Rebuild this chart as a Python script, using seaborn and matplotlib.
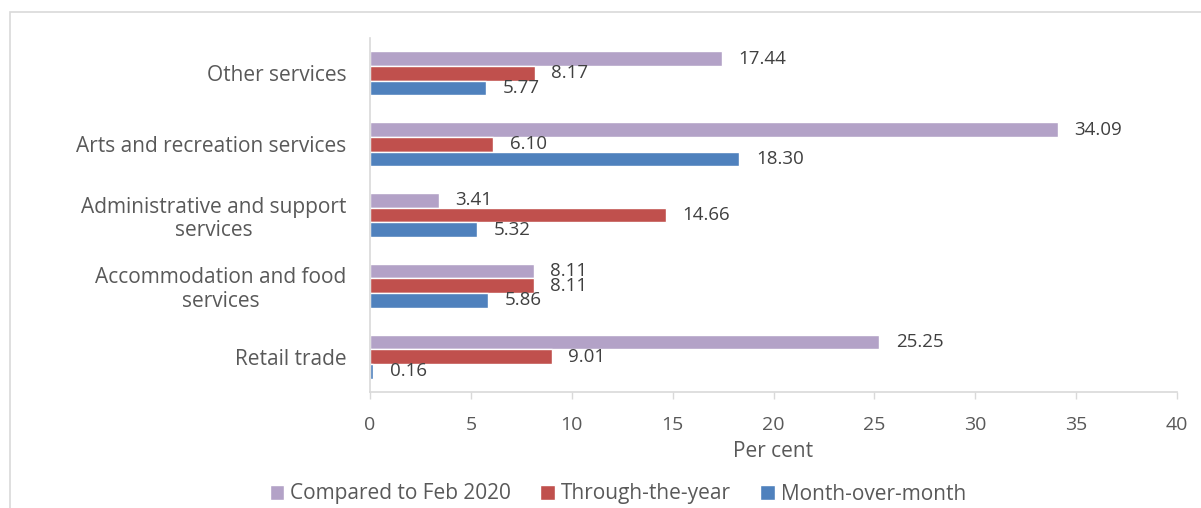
import matplotlib
matplotlib.use("Agg")
import matplotlib.pyplot as plt
import matplotlib.patches as mpatches
import seaborn as sns
import pandas as pd

categories = [
    "Other services",
    "Arts and recreation services",
    "Administrative and support\nservices",
    "Accommodation and food\nservices",
    "Retail trade",
]
series = ["Compared to Feb 2020", "Through-the-year", "Month-over-month"]
compared_feb_2020 = [17.44, 34.09, 3.41, 8.11, 25.25]
through_the_year = [8.17, 6.10, 14.66, 8.11, 9.01]
month_over_month = [5.77, 18.30, 5.32, 5.86, 0.16]
colors = ["#B3A2C7", "#C0504D", "#4F81BD"]

rows = []
for name, vals in zip(series, [compared_feb_2020, through_the_year, month_over_month]):
    for cat, v in zip(categories, vals):
        rows.append({"category": cat, "series": name, "value": v})
df = pd.DataFrame(rows)

sns.set_theme(style="white")
plt.rcParams["font.family"] = ["Open Sans", "DejaVu Sans"]

fig = plt.figure(figsize=(12.01, 5.08), dpi=100)
ax = fig.add_axes([370 / 1201, 1 - 392 / 508, (1177 - 370) / 1201, (392 - 38) / 508])

sns.barplot(
    data=df, y="category", x="value", hue="series",
    order=categories, hue_order=series, palette=colors,
    orient="h", width=0.62, ax=ax, saturation=1, legend=True,
)

for container in ax.containers:
    ax.bar_label(container, fmt="%.2f", padding=12, fontsize=13.5, color="#404040")

ax.set_xlim(0, 40)
ax.set_xticks(range(0, 41, 5))
ax.set_ylabel("")
ax.set_xlabel("Per cent", fontsize=15, color="#595959", labelpad=5)
ax.tick_params(axis="x", colors="#595959", labelsize=14, length=5, width=1, direction="out", pad=12,
               bottom=True, color="#D9D9D9")
ax.tick_params(axis="y", colors="#595959", labelsize=15, length=0, pad=17)
for lab in ax.get_yticklabels():
    lab.set_multialignment("center")
    lab.set_linespacing(1.15)
for s in ["top", "right"]:
    ax.spines[s].set_visible(False)
for s in ["left", "bottom"]:
    ax.spines[s].set_color("#D9D9D9")
    ax.spines[s].set_linewidth(1.2)

handles, labels = ax.get_legend_handles_labels()
ax.get_legend().remove()
fig.legend(handles, labels, loc="center", bbox_to_anchor=(618 / 1201, 1 - 494 / 508), ncol=3,
           frameon=False, fontsize=15, handlelength=0.7, handleheight=0.7, handletextpad=0.3,
           columnspacing=1.4, labelcolor="#595959")

frame = mpatches.Rectangle((10 / 1201, -0.5), 2.0, 1 - 12 / 508 + 0.5, transform=fig.transFigure,
                           fill=False, edgecolor="#D9D9D9", linewidth=1.2, clip_on=False)
fig.patches.append(frame)

fig.savefig("out.png", dpi=100)
